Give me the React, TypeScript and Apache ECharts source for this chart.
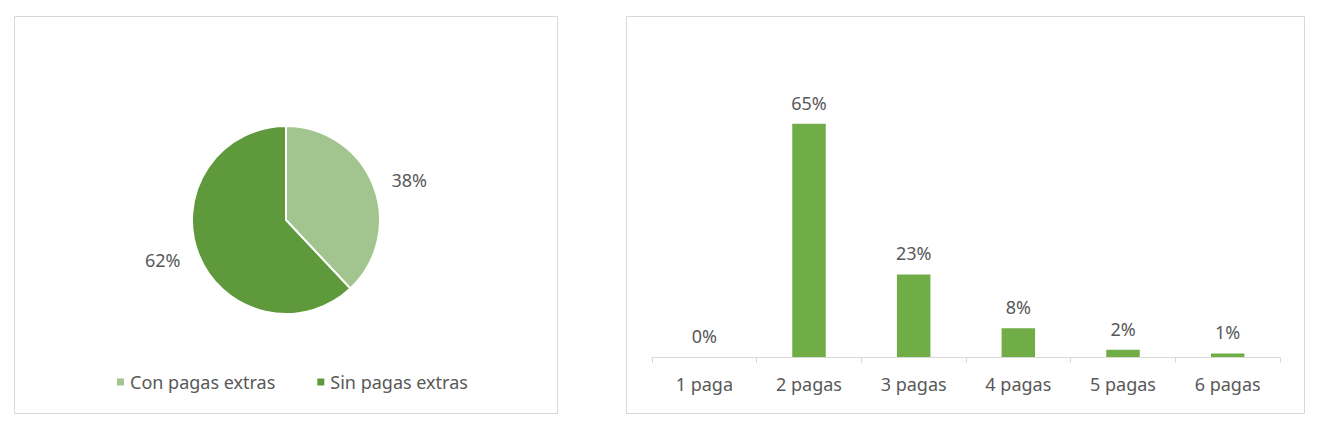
import React, { useEffect, useRef } from 'react'
import * as echarts from 'echarts'

// pie data
const pieNames = ['Con pagas extras', 'Sin pagas extras']
const pieValues = [38, 62]
const pieColors = ['#a2c58f', '#5e9a3b']

// bar data
const barCategories = ['1 paga', '2 pagas', '3 pagas', '4 pagas', '5 pagas', '6 pagas']
const barValues = [0, 65, 23, 8, 2, 1]

const FONT = 'Noto Sans'
const TEXT = '#595959'
const FS = 18

const App: React.FC = () => {
  const chartRef = useRef<HTMLDivElement>(null)

  useEffect(() => {
    if (!chartRef.current) return
    const chart = echarts.init(chartRef.current, null, { renderer: 'svg' })

    const option = {
      animation: false,
      backgroundColor: '#ffffff',
      textStyle: { fontFamily: FONT },
      graphic: [
        // panel borders
        {
          type: 'rect',
          shape: { x: 14.5, y: 16.5, width: 543, height: 397 },
          style: { fill: '#ffffff', stroke: '#d9d9d9', lineWidth: 1 },
          z: -10
        },
        {
          type: 'rect',
          shape: { x: 626.5, y: 16.5, width: 678, height: 397 },
          style: { fill: '#ffffff', stroke: '#d9d9d9', lineWidth: 1 },
          z: -10
        }
      ],
      legend: {
        data: pieNames,
        left: 110,
        top: 368,
        textStyle: { fontFamily: FONT, fontSize: FS, color: TEXT },
        itemWidth: 9,
        itemHeight: 9,
        itemGap: 40,
        icon: 'rect'
      },
      grid: { left: 652, right: 40, top: 70, bottom: 73 },
      xAxis: {
        type: 'category',
        data: barCategories,
        axisLine: { lineStyle: { color: '#d9d9d9', width: 1 } },
        axisTick: { show: true, length: 6, lineStyle: { color: '#d9d9d9' } },
        axisLabel: { fontFamily: FONT, fontSize: FS, color: TEXT, margin: 18 }
      },
      yAxis: {
        type: 'value',
        min: 0,
        max: 80,
        show: false,
        splitLine: { show: false }
      },
      series: [
        {
          type: 'pie',
          center: [286, 220],
          radius: [0, 94],
          startAngle: 90,
          clockwise: true,
          itemStyle: { borderColor: '#ffffff', borderWidth: 2 },
          label: {
            show: true,
            position: 'outside',
            formatter: '{c}%',
            fontFamily: FONT,
            fontSize: FS,
            color: TEXT
          },
          labelLine: { show: false, length: 14, length2: 0 },
          data: pieNames.map((n, i) => ({
            name: n,
            value: pieValues[i],
            itemStyle: { color: pieColors[i] }
          }))
        },
        {
          type: 'bar',
          data: barValues,
          barWidth: '32%',
          itemStyle: { color: '#70ad47' },
          label: {
            show: true,
            position: 'top',
            distance: 12,
            formatter: '{c}%',
            fontFamily: FONT,
            fontSize: FS,
            color: TEXT
          }
        }
      ]
    }

    chart.setOption(option)
    return () => {
      chart.dispose()
    }
  }, [])

  return (
    <div
      ref={chartRef}
      style={{ position: 'fixed', left: 0, top: 0, width: 1320, height: 430 }}
    />
  )
}

export default App
